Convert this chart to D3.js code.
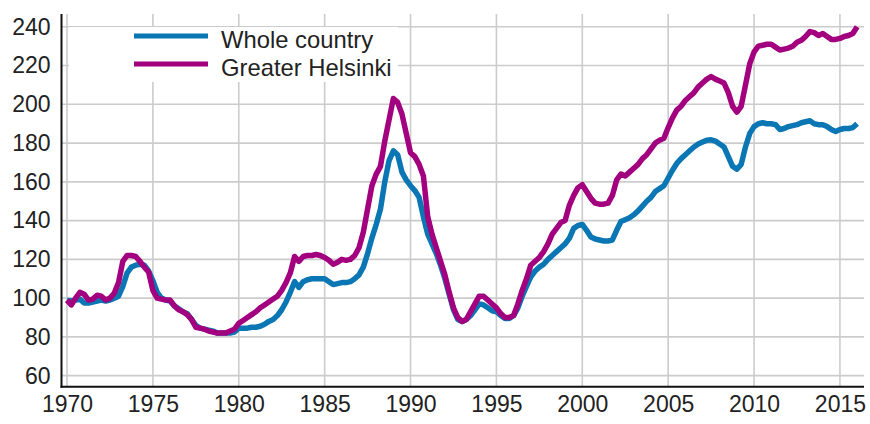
<!DOCTYPE html>
<html>
<head>
<meta charset="utf-8">
<script src="https://cdn.jsdelivr.net/npm/d3@7/dist/d3.min.js"></script>
<style>
  html, body { margin: 0; padding: 0; background: #fff; }
  svg { display: block; }
  text { font-family: "Liberation Sans", Arial, sans-serif; fill: #222; }
</style>
</head>
<body>
<div id="chart"></div>
<script>
// ---- data (quarterly index, 1970 = 100) ----
const startYear = 1970;
const seriesNames = ["Whole country", "Greater Helsinki"];
const seriesColors = ["#0a77b4", "#a2007f"];
const wholeCountry = [
  99, 98.5, 99, 99.5,
  97.5, 97.5, 98, 98.5,
  99, 98.5, 99, 100,
  101, 106, 113, 116,
  117, 117.5, 117, 114,
  109, 103, 100, 99,
  98.5, 96, 94.5, 93,
  92, 89, 86, 84.5,
  84, 83.5, 83, 82,
  82, 82, 82, 82.5,
  84.5, 84.5, 84.5, 85,
  85, 85.5, 86.5, 88,
  89, 91, 94, 98,
  103, 108.5, 105.5, 108.5,
  109.5, 110, 110, 110,
  110, 108.5, 107, 107.5,
  108, 108, 108.5, 110,
  112, 116, 123, 131,
  138, 146, 160, 171,
  176, 174, 165, 161,
  158, 155.5, 152, 142,
  133, 128, 123, 117,
  110, 102, 94, 89,
  88, 89, 91, 94,
  97, 96.5, 95, 93.5,
  93, 91, 89.5, 89.5,
  91, 95, 101, 106,
  111, 114, 116, 117.5,
  120, 122, 124, 126,
  128, 131, 136, 137.5,
  138, 135, 131.5, 130.5,
  130, 129.5, 129.5, 130,
  135, 139.5, 140.5, 141.5,
  143, 145, 147.5, 150,
  152, 155, 156.5, 158,
  162, 166, 169.5, 172,
  174, 176, 178, 179.5,
  180.5, 181.5, 181.7, 181,
  179.5, 178, 173, 168,
  166.5, 169, 178, 185,
  188.5, 190, 190.5, 190,
  190, 189.5, 187, 187.5,
  188.5, 189, 189.5, 190.5,
  191, 191.5, 190, 189.5,
  189.5, 188.5, 187, 186,
  187, 187.5, 187.5, 188,
  190
];
const greaterHelsinki = [
  99, 96.5, 100, 103,
  102, 99, 99.5, 101.5,
  101, 99, 100, 102.5,
  108, 119, 122, 122,
  121.5, 119, 116, 113.5,
  104, 100, 99.5, 99,
  99, 96, 94, 93,
  91.5, 89, 85, 84.5,
  84, 83, 82.5, 82,
  82, 82, 83, 84,
  87, 88.5, 90, 91.5,
  93, 95, 96.5, 98,
  99.5, 101, 104, 108,
  113, 121.5, 119, 121.5,
  122, 122, 122.5, 122,
  121, 119.5, 117.5, 118.5,
  120, 119.5, 120, 122,
  126, 134, 146, 158,
  164, 168, 181, 192,
  203, 201, 195, 185,
  175, 173, 169, 163,
  142, 133, 126, 119,
  112, 103, 95, 90,
  88, 89, 93, 97,
  101, 101, 99, 97,
  95, 92, 90, 90,
  91, 97, 104, 110,
  117, 119, 121, 124,
  128, 133, 136, 139,
  140, 148, 153, 157,
  158.5, 155, 151.5, 149,
  148.5, 148.5, 149, 153,
  161, 164, 163, 165,
  167, 169, 172, 174,
  177, 180, 181.5, 182.5,
  188, 193, 197, 199,
  202, 204, 206, 209,
  211, 213, 214.3, 213,
  212, 211, 206, 199,
  196, 199, 210, 221,
  227, 230, 230.5, 231,
  231, 229.5, 228, 228.5,
  229, 230, 232, 233,
  235, 237.5, 237, 235.5,
  236.5, 235, 233.5, 233.5,
  234, 235, 235.5, 236.5,
  240
];
const xTickLabels = [1970, 1975, 1980, 1985, 1990, 1995, 2000, 2005, 2010, 2015];
const yTickLabels = [60, 80, 100, 120, 140, 160, 180, 200, 220, 240];

// ---- layout ----
const W = 870, H = 424;
const plot = { left: 61.5, right: 864, top: 14, bottom: 386.7 };

const svg = d3.select("#chart").append("svg").attr("width", W).attr("height", H);

const x = d3.scaleLinear().domain([1969.68, 2016.4]).range([plot.left, plot.right]);
const y = d3.scaleLinear().domain([54.3, 246.6]).range([plot.bottom, plot.top]);

// gridlines
const grid = svg.append("g").attr("stroke", "#cccccc").attr("stroke-width", 1.6);
grid.selectAll("line.h").data(yTickLabels).join("line")
  .attr("x1", plot.left).attr("x2", plot.right)
  .attr("y1", d => y(d)).attr("y2", d => y(d));
grid.selectAll("line.v").data(xTickLabels).join("line")
  .attr("y1", plot.top).attr("y2", plot.bottom)
  .attr("x1", d => x(d)).attr("x2", d => x(d));

// axes (labels via d3 axes)
const yAxis = svg.append("g").attr("transform", `translate(${plot.left},0)`)
  .call(d3.axisLeft(y).tickValues(yTickLabels).tickSize(0).tickPadding(11));
yAxis.select(".domain").remove();
yAxis.selectAll("text").attr("font-size", 23).attr("font-family", "Liberation Sans, Arial, sans-serif").attr("fill", "#222");

const xAxis = svg.append("g").attr("transform", `translate(0,${plot.bottom})`)
  .call(d3.axisBottom(x).tickValues(xTickLabels).tickFormat(d3.format("d")).tickSize(0).tickPadding(9));
xAxis.select(".domain").remove();
xAxis.selectAll("text").attr("font-size", 23).attr("font-family", "Liberation Sans, Arial, sans-serif").attr("fill", "#222");

// series lines
const seriesData = [wholeCountry, greaterHelsinki];
const line = d3.line()
  .x((d, i) => x(startYear + i / 4))
  .y(d => y(d));
svg.append("g").selectAll("path").data(seriesData).join("path")
  .attr("d", d => line(d))
  .attr("fill", "none")
  .attr("stroke", (d, i) => seriesColors[i])
  .attr("stroke-width", 5.5)
  .attr("stroke-linejoin", "round")
  .attr("stroke-linecap", "butt");

// axis lines
svg.append("line").attr("x1", plot.left).attr("x2", plot.left)
  .attr("y1", plot.top).attr("y2", plot.bottom + 1)
  .attr("stroke", "#111").attr("stroke-width", 2);
svg.append("line").attr("x1", plot.left - 1).attr("x2", plot.right)
  .attr("y1", plot.bottom).attr("y2", plot.bottom)
  .attr("stroke", "#111").attr("stroke-width", 2);

// legend
const legend = svg.append("g");
legend.append("rect").attr("x", 69).attr("y", 27).attr("width", 329).attr("height", 55).attr("fill", "#fff");
const legendY = [36, 64];
seriesNames.forEach((name, i) => {
  legend.append("line")
    .attr("x1", 134).attr("x2", 208)
    .attr("y1", legendY[i]).attr("y2", legendY[i])
    .attr("stroke", seriesColors[i]).attr("stroke-width", 5);
  legend.append("text")
    .attr("x", 221).attr("y", legendY[i] + 12)
    .attr("font-size", 23.8)
    .text(name);
});
</script>
</body>
</html>
